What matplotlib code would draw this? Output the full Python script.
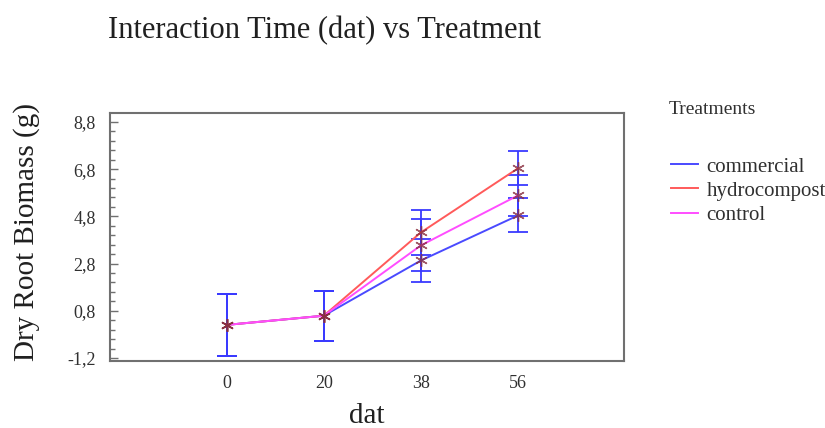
import matplotlib
matplotlib.use("Agg")
import matplotlib.pyplot as plt
import numpy as np
from matplotlib.ticker import FixedLocator, FuncFormatter

# interaction means and error half-widths per treatment
dat_labels = ["0", "20", "38", "56"]
treatments = ["commercial", "hydrocompost", "control"]
commercial = [0.20, 0.59, 2.93, 4.84]
hydrocompost = [0.20, 0.59, 4.12, 6.84]
control = [0.20, 0.59, 3.57, 5.69]
commercial_err = [1.30, 1.06, 0.93, 0.72]
hydrocompost_err = [1.30, 1.06, 0.94, 0.73]
control_err = [1.30, 1.06, 1.10, 0.86]

line_colors = {"commercial": "#4a4aff", "hydrocompost": "#ff5a5a", "control": "#ff4dff"}
err_color = "#3a3aff"
marker_color = "#8a3040"

plt.rcParams["font.family"] = ["Liberation Serif", "DejaVu Serif"]

fig = plt.figure(figsize=(8.25, 4.28), dpi=100)
ax = fig.add_axes([0.1333, 0.1565, 0.6231, 0.5795])

x = np.arange(len(dat_labels))
series = [
    ("commercial", commercial, commercial_err),
    ("hydrocompost", hydrocompost, hydrocompost_err),
    ("control", control, control_err),
]

# error bars first, then lines and markers on top
for name, vals, errs in series:
    ax.errorbar(x, vals, yerr=errs, fmt="none", ecolor=err_color,
                elinewidth=1.3, capsize=7, capthick=1.3, zorder=2)
for name, vals, errs in series:
    ax.plot(x, vals, color=line_colors[name], lw=1.4, label=name, zorder=3)
    ax.plot(x, vals, linestyle="none", marker=(6, 2, 0), markersize=9,
            markeredgecolor=marker_color, markeredgewidth=1.0, alpha=0.8, zorder=4)

ax.set_xlim(-1.2, 4.09)
ax.set_ylim(-1.33, 9.18)
ax.set_xticks(x)
ax.set_xticklabels(dat_labels)
ax.yaxis.set_major_locator(FixedLocator([-1.2, 0.8, 2.8, 4.8, 6.8, 8.8]))
ax.yaxis.set_minor_locator(FixedLocator(np.arange(-1.2, 9.3, 0.4)))
ax.yaxis.set_major_formatter(FuncFormatter(lambda v, p: f"{v:.1f}".replace(".", ",")))
ax.tick_params(axis="y", which="major", direction="in", length=6, width=1,
               color="#707070", labelsize=13, labelcolor="#303030", pad=10)
ax.tick_params(axis="y", which="minor", direction="in", length=3.5, width=1,
               color="#707070")
ax.tick_params(axis="x", length=0, labelsize=13, labelcolor="#303030", pad=10)

for s in ax.spines.values():
    s.set_color("#707070")
    s.set_linewidth(1.5)

ax.set_xlabel("dat", fontsize=21, color="#202020", labelpad=8)
ax.set_ylabel("Dry Root Biomass (g)", fontsize=21, color="#202020")
ax.yaxis.set_label_coords(-0.136, 0.52)
fig.text(0.131, 0.911, "Interaction Time (dat) vs Treatment", fontsize=22,
         color="#202020", ha="left", va="baseline")

fig.text(0.811, 0.733, "Treatments", fontsize=14, color="#303030", ha="left")
leg = ax.legend(loc="upper left", bbox_to_anchor=(1.075, 0.856), frameon=False,
                fontsize=15, handlelength=1.3, handletextpad=0.4,
                labelspacing=0.22, borderaxespad=0)
for t in leg.get_texts():
    t.set_color("#303030")

fig.savefig("out.png", dpi=100)
